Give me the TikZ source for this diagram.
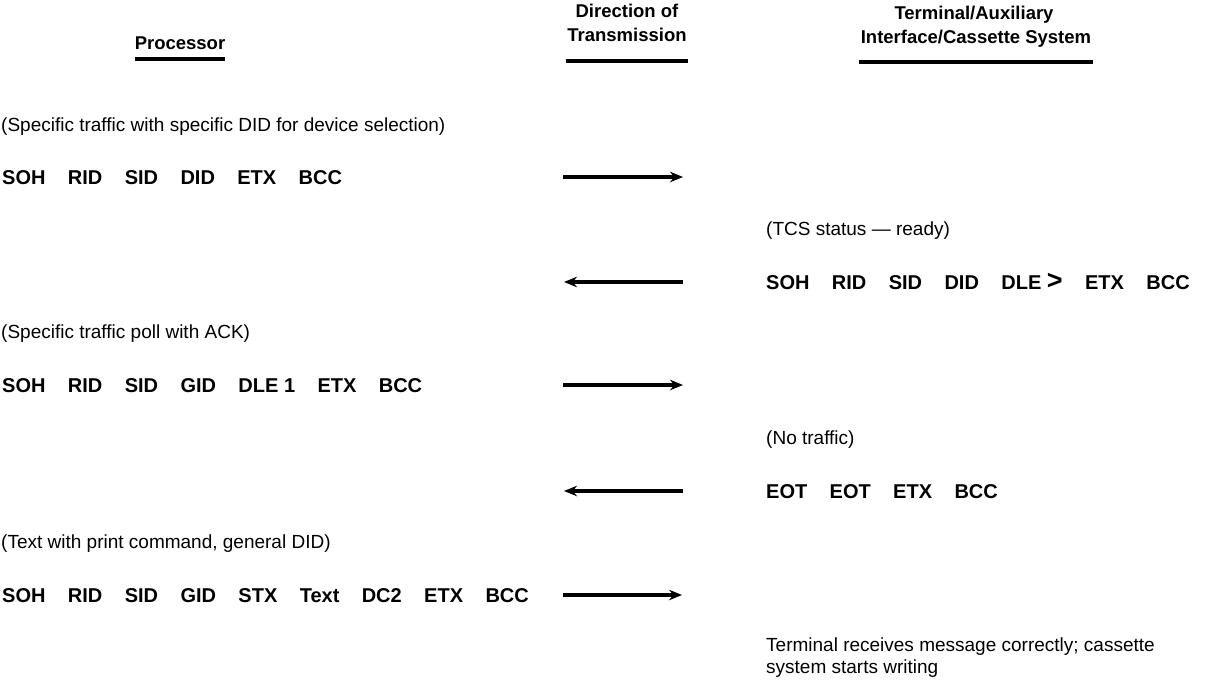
\documentclass[tikz,border=0pt]{standalone}
\usepackage{fontspec}
\setmainfont{Liberation Sans}
\usetikzlibrary{arrows.meta}
\newcommand\cg{\hspace{1.12em}}
\newcommand\bigGT{{\fontsize{27}{27}\selectfont >}}
\begin{document}
\begin{tikzpicture}[x=1pt,y=-1pt,
  txt/.style={anchor=base west,inner sep=0pt,font=\fontsize{19}{22}\selectfont},
  code/.style={anchor=base west,inner sep=0pt,font=\fontsize{20}{22}\selectfont\bfseries},
  head/.style={anchor=base,inner sep=0pt,font=\fontsize{18.5}{22}\selectfont\bfseries},
  uline/.style={line width=3.2pt},
  msg/.style={line width=3.6pt,-{Stealth[length=13pt,width=10.5pt]}}]
\useasboundingbox (0,0) rectangle (1215,685);
% headers
\node[head] (proc) at (180,50) {Processor};
\node[head] (dir1) at (627,18) {Direction of};
\node[head] (dir2) at (627,42) {Transmission};
\node[head] (term1) at (974,20) {Terminal/Auxiliary};
\node[head] (term2) at (976,44) {Interface/Cassette System};
\draw[uline] ([yshift=-9pt]proc.base west) -- ([yshift=-9pt]proc.base east);
\draw[uline] ([xshift=-1pt,yshift=-19pt]dir2.base west) -- ([xshift=1pt,yshift=-19pt]dir2.base east);
\draw[uline] ([xshift=-2pt,yshift=-18pt]term2.base west) -- ([xshift=2pt,yshift=-18pt]term2.base east);
% processor side
\node[txt] (c1) at (1,131) {(Specific traffic with specific DID for device selection)};
\node[code] (m1) at (2,184) {SOH\cg RID\cg SID\cg DID\cg ETX\cg BCC};
\node[txt] (c3) at (1,338) {(Specific traffic poll with ACK)};
\node[code] (m3) at (2,392) {SOH\cg RID\cg SID\cg GID\cg DLE 1\cg ETX\cg BCC};
\node[txt] (c5) at (1,548) {(Text with print command, general DID)};
\node[code] (m5) at (2,602) {SOH\cg RID\cg SID\cg GID\cg STX\cg Text\cg DC2\cg ETX\cg BCC};
% terminal side
\node[txt] (c2) at (766,235) {(TCS status --- ready)};
\node[code] (m2) at (766,289) {SOH\cg RID\cg SID\cg DID\cg DLE \bigGT\cg ETX\cg BCC};
\node[txt] (c4) at (766,444) {(No traffic)};
\node[code] (m4) at (766,498) {EOT\cg EOT\cg ETX\cg BCC};
\node[txt,align=left] (c6) at (766,673) {Terminal receives message correctly; cassette\\system starts writing};
% arrows
\coordinate (a1s) at (563,177); \coordinate (a1e) at (683,177);
\coordinate (a2s) at (683,282); \coordinate (a2e) at (564,282);
\coordinate (a3s) at (563,385); \coordinate (a3e) at (683,385);
\coordinate (a4s) at (683,491); \coordinate (a4e) at (564,491);
\coordinate (a5s) at (563,595); \coordinate (a5e) at (682,595);
\draw[msg] (a1s) -- (a1e);
\draw[msg] (a2s) -- (a2e);
\draw[msg] (a3s) -- (a3e);
\draw[msg] (a4s) -- (a4e);
\draw[msg] (a5s) -- (a5e);
\end{tikzpicture}
\end{document}
